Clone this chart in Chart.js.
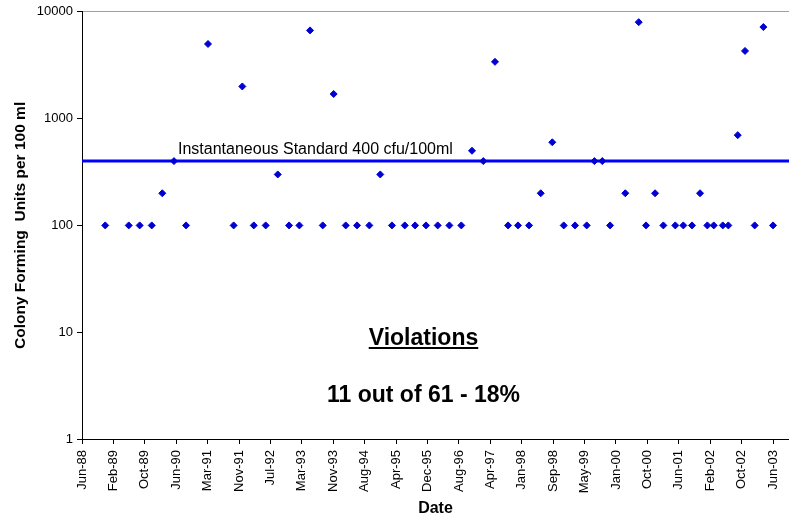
<!DOCTYPE html>
<html>
<head>
<meta charset="utf-8">
<title>Colony Forming Units per 100 ml</title>
<script src="https://cdn.jsdelivr.net/npm/chart.js@4.4.0/dist/chart.umd.min.js"></script>
<style>
    html, body { margin: 0; padding: 0; background: #fff; }
    canvas { display: block; }
</style>
</head>
<body>
<canvas id="chartCfu" width="789" height="521"></canvas>
<script>
// ===== Datos =====
const sampleDates = [
    '1988-12-08', '1989-06-13', '1989-09-08', '1989-12-13', '1990-03-07', '1990-06-08',
    '1990-09-12', '1991-03-06', '1991-09-26', '1991-12-04', '1992-03-04', '1992-06-07',
    '1992-09-11', '1992-12-10', '1993-03-02', '1993-05-26', '1993-09-04', '1993-11-30',
    '1994-03-06', '1994-06-04', '1994-09-10', '1994-12-06', '1995-03-09', '1995-06-19',
    '1995-09-09', '1995-12-05', '1996-03-07', '1996-06-08', '1996-09-11', '1996-12-05',
    '1997-03-05', '1997-06-06', '1997-09-18', '1997-12-06', '1998-03-04', '1998-06-05',
    '1998-09-05', '1998-12-05', '1999-03-05', '1999-06-06', '1999-08-06', '1999-10-08',
    '1999-12-09', '2000-04-08', '2000-07-24', '2000-09-20', '2000-12-01', '2001-02-05',
    '2001-05-11', '2001-07-14', '2001-09-21', '2001-11-24', '2002-01-21', '2002-03-13',
    '2002-05-24', '2002-07-07', '2002-09-20', '2002-11-17', '2003-02-02', '2003-04-12',
    '2003-06-28'
];

const cfuValues = [
    100, 100, 100, 100, 200, 400,
    100, 5000, 100, 2000, 100, 100,
    300, 100, 100, 6700, 100, 1700,
    100, 100, 100, 300, 100, 100,
    100, 100, 100, 100, 100, 500,
    400, 3400, 100, 100, 100, 200,
    600, 100, 100, 100, 400, 400,
    100, 200, 8000, 100, 200, 100,
    100, 100, 100, 200, 100, 100,
    100, 100, 700, 4300, 100, 7200,
    100
];

const tickLabels = [
    'Jun-88', 'Feb-89', 'Oct-89', 'Jun-90', 'Mar-91', 'Nov-91', 'Jul-92', 'Mar-93',
    'Nov-93', 'Aug-94', 'Apr-95', 'Dec-95', 'Aug-96', 'Apr-97', 'Jan-98', 'Sep-98',
    'May-99', 'Jan-00', 'Oct-00', 'Jun-01', 'Feb-02', 'Oct-02', 'Jun-03'
];
const yTickValues = [1, 10, 100, 1000, 10000];

const standardLevel = 400;
const standardLabel = 'Instantaneous Standard 400 cfu/100ml';
const summaryTitle = 'Violations';
const summaryText = '11 out of 61 - 18%';

const axisStart = '1988-06-06';
const axisEnd = '2003-11-02';
const tickStepDays = 250;

const FONT = '"Liberation Sans", Arial, Helvetica, sans-serif';

// dias desde epoch
function toDay(str) {
    const [y, m, d] = str.split('-').map(Number);
    return Date.UTC(y, m - 1, d) / 864e5;
}

const xMin = toDay(axisStart);
const xMax = toDay(axisEnd);

// Textos sobre el area del grafico
const notesPlugin = {
    id: 'notes',
    afterDatasetsDraw(chart) {
        const { ctx, chartArea, scales } = chart;
        const yStd = scales.y.getPixelForValue(standardLevel);
        ctx.save();
        ctx.fillStyle = '#000';
        ctx.textBaseline = 'alphabetic';

        ctx.font = '16px ' + FONT;
        ctx.textAlign = 'left';
        ctx.fillText(standardLabel, chartArea.left + 96, yStd - 7);

        const cx = chartArea.left + 341.5;
        ctx.font = 'bold 23px ' + FONT;
        ctx.textAlign = 'center';
        ctx.fillText(summaryTitle, cx, 345);
        const w = ctx.measureText(summaryTitle).width;
        ctx.fillRect(cx - w / 2, 347, w, 2);
        ctx.fillText(summaryText, cx, 402);
        ctx.restore();
    }
};

const chart = new Chart(document.getElementById('chartCfu'), {
    type: 'scatter',
    data: {
        datasets: [
            {
                label: 'CFU',
                data: sampleDates.map((d, i) => ({ x: toDay(d), y: cfuValues[i] })),
                pointStyle: 'rectRot',
                pointRadius: 3.5,
                borderWidth: 1,
                backgroundColor: '#0000D0',
                borderColor: '#0000D0',
                showLine: false
            },
            {
                label: 'Standard',
                type: 'line',
                data: [{ x: xMin, y: standardLevel }, { x: xMax, y: standardLevel }],
                borderColor: '#0000FF',
                borderWidth: 3,
                pointRadius: 0,
                fill: false
            }
        ]
    },
    options: {
        responsive: false,
        animation: false,
        layout: {
            autoPadding: false,
            padding: { top: 10, right: 0, bottom: 0, left: 0 }
        },
        plugins: {
            legend: { display: false },
            tooltip: { enabled: false }
        },
        scales: {
            x: {
                type: 'linear',
                min: xMin,
                max: xMax,
                afterBuildTicks: axis => {
                    axis.ticks = tickLabels.map((_, i) => ({ value: xMin + i * tickStepDays }));
                },
                afterFit: axis => {
                    axis.height = 82;
                    axis.paddingLeft = 0;
                    axis.paddingRight = 0;
                },
                ticks: {
                    autoSkip: false,
                    minRotation: 90,
                    maxRotation: 90,
                    padding: 6,
                    color: '#000',
                    font: { family: FONT, size: 13 },
                    callback: (v, i) => tickLabels[i]
                },
                grid: {
                    drawOnChartArea: false,
                    tickLength: 5,
                    tickColor: '#000'
                },
                border: { color: '#000', width: 1 },
                title: {
                    display: true,
                    text: 'Date',
                    color: '#000',
                    font: { family: FONT, size: 16, weight: 'bold' },
                    padding: { top: 0, bottom: 3 }
                }
            },
            y: {
                type: 'logarithmic',
                min: 1,
                max: 10000,
                afterBuildTicks: axis => {
                    axis.ticks = yTickValues.map(v => ({ value: v }));
                },
                afterFit: axis => { axis.width = 82; },
                ticks: {
                    padding: 4,
                    color: '#000',
                    font: { family: FONT, size: 13 },
                    callback: v => String(v)
                },
                grid: {
                    drawOnChartArea: true,
                    color: ctx => (ctx.tick && ctx.tick.value === 10000) ? '#a0a0a0' : 'rgba(0,0,0,0)',
                    tickLength: 5,
                    tickColor: '#000'
                },
                border: { color: '#000', width: 1 },
                title: {
                    display: true,
                    text: 'Colony Forming  Units per 100 ml',
                    color: '#000',
                    font: { family: FONT, size: 15.5, weight: 'bold' },
                    padding: { top: 11, bottom: 0 }
                }
            }
        }
    },
    plugins: [notesPlugin]
});
</script>
</body>
</html>
